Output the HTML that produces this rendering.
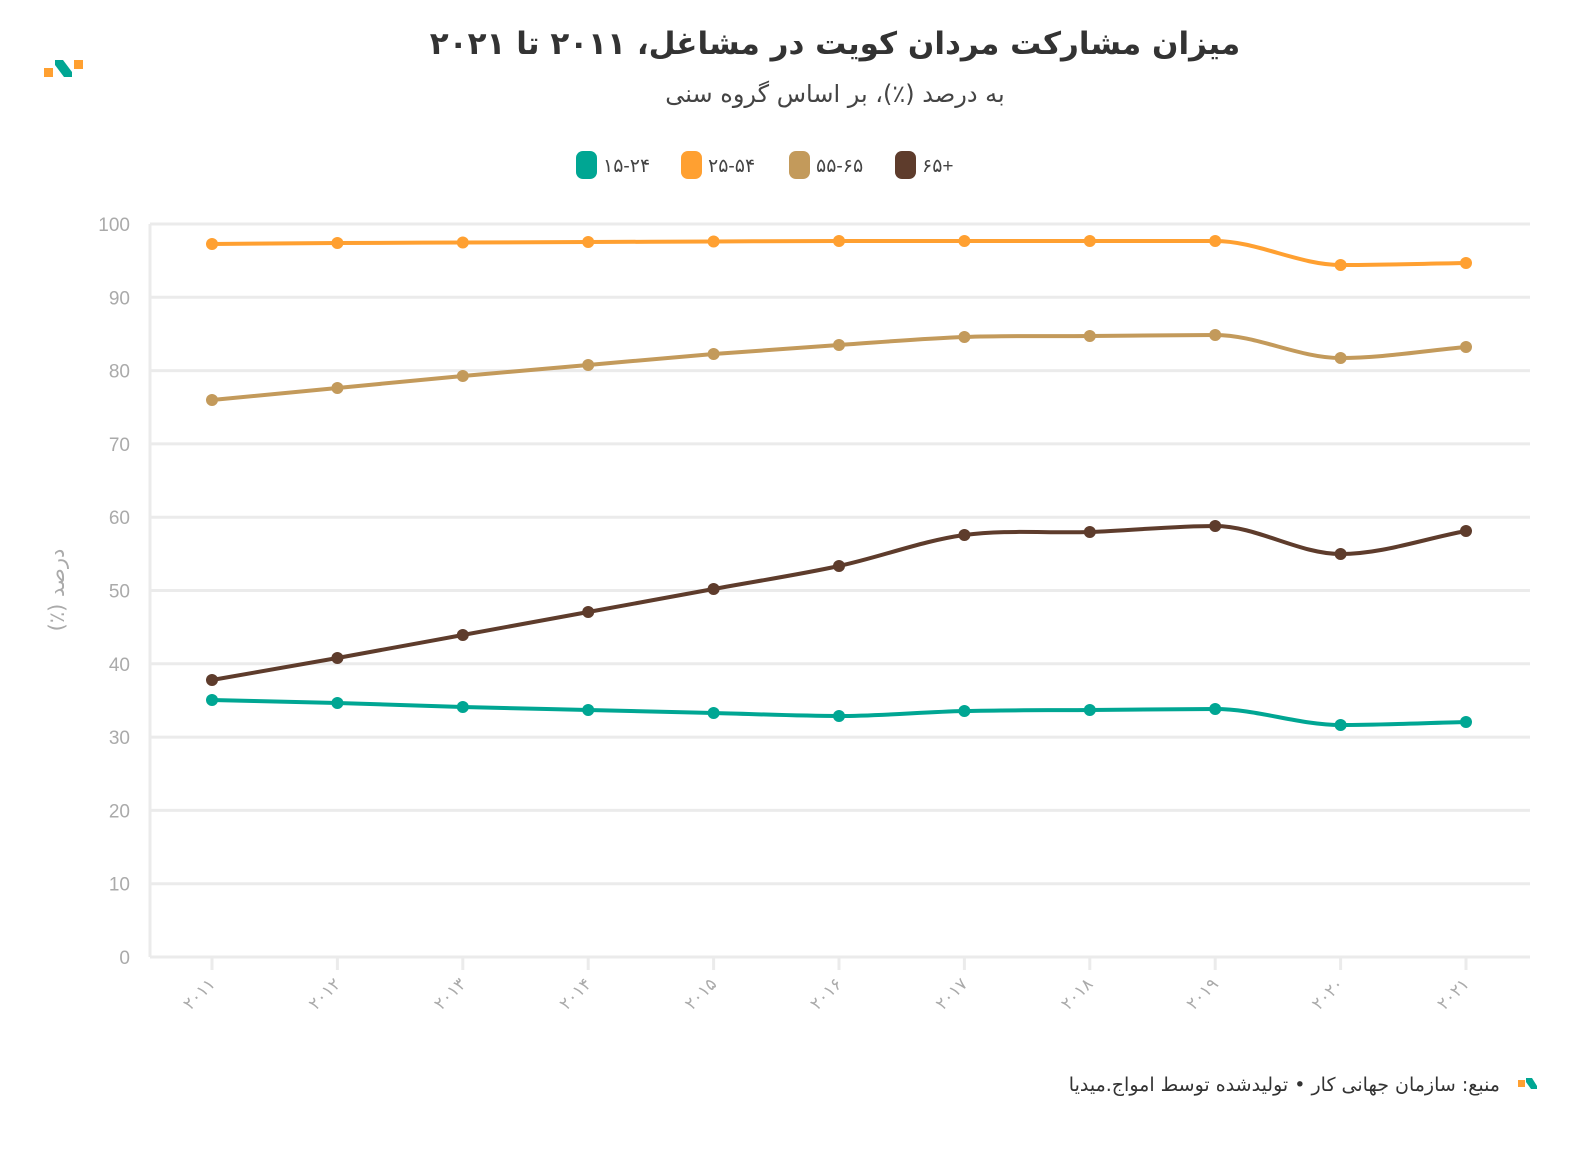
<!DOCTYPE html>
<html><head><meta charset="utf-8">
<style>
body{margin:0;background:#fff;width:1592px;height:1150px;overflow:hidden;font-family:"Liberation Sans","DejaVu Sans",sans-serif;position:relative;}
svg text{font-family:"Liberation Sans","DejaVu Sans",sans-serif;}
.t{position:absolute;direction:rtl;white-space:nowrap;font-family:"DejaVu Sans","Liberation Sans",sans-serif;}
</style></head><body>
<svg id="s" width="1592" height="1150" xmlns="http://www.w3.org/2000/svg" style="position:absolute;left:0;top:0">
<g>
<rect x="44" y="68" width="9" height="9" fill="#ffa031"/>
<path d="M55 60 L63 60 L72 72 L72 77 L64 77 L55 65Z" fill="#00a693"/>
<rect x="74" y="60" width="9" height="9" fill="#ffa031"/>
</g>
<g font-size="19" fill="#444">
<rect x="576" y="151" width="21" height="28" rx="7" fill="#00a693"/><text x="603" y="172">۱۵-۲۴</text>
<rect x="681" y="151" width="21" height="28" rx="7" fill="#ffa031"/><text x="708" y="172">۲۵-۵۴</text>
<rect x="789" y="151" width="21" height="28" rx="7" fill="#c39a5b"/><text x="816" y="172">۵۵-۶۵</text>
<rect x="895" y="151" width="21" height="28" rx="7" fill="#5e3c2c"/><text x="922" y="172">۶۵+</text>
</g>
<g id="grid" stroke="#ebebeb" stroke-width="3"></g>
<g id="yl" font-size="19" fill="#aaa" text-anchor="end"></g>
<g id="xl" font-size="17" fill="#aaa"></g>
<g id="series" fill="none" stroke-width="4"></g>
<rect x="1518" y="1080" width="7" height="7" fill="#ffa031"/>
<path d="M1526 1078 L1532 1078 L1537 1086 L1537 1089 L1531 1089 L1526 1082Z" fill="#00a693"/>
</svg>
<div class="t" style="left:0;width:1670px;text-align:center;top:26px;font-size:31px;font-weight:bold;color:#333">میزان مشارکت مردان کویت در مشاغل، ۲۰۱۱ تا ۲۰۲۱</div>
<div class="t" style="left:0;width:1670px;text-align:center;top:80px;font-size:24px;color:#444">به درصد (٪)، بر اساس گروه سنی</div>
<div class="t" style="right:92px;top:1074px;font-size:19px;color:#333">منبع: سازمان جهانی کار • تولیدشده توسط امواج.میدیا</div>
<div class="t" style="left:57px;top:590px;font-size:21px;color:#aaa;transform:translate(-50%,-50%) rotate(-90deg)">درصد (٪)</div>
<script>
var NS="http://www.w3.org/2000/svg";
function el(t,a,p){var e=document.createElementNS(NS,t);for(var k in a)e.setAttribute(k,a[k]);document.getElementById(p).appendChild(e);return e;}
var fa="۰۱۲۳۴۵۶۷۸۹";function f(n){return String(n).replace(/\d/g,function(d){return fa[d];});}
for(var i=0;i<=10;i++){var y=957-i*73.3;el("line",{x1:150,x2:1530,y1:y,y2:y},"grid");var t=el("text",{x:130,y:y+7},"yl");t.textContent=String(i*10);}
el("line",{x1:150,x2:150,y1:224,y2:957},"grid");
for(var i=0;i<11;i++){var x=212+i*125.4;el("line",{x1:x,x2:x,y1:957,y2:970},"grid");var t=el("text",{x:0,y:0,transform:"translate("+(x+4)+",985) rotate(-45)","text-anchor":"end"},"xl");t.textContent=f(2011+i);}
var S=[["#00a693",[700,703,707,710,713,716,711,710,709,725,722]],
["#ffa031",[244,243,242.5,242,241.5,241,241,241,241,265,263]],
["#c39a5b",[400,388,376,365,354,345,337,336,335,358,347]],
["#5e3c2c",[680,658,635,612,589,566,535,532,526,554,531]]];
S.forEach(function(s){var c=s[0],v=s[1],n=v.length,X=[];for(var i=0;i<n;i++)X.push(212+i*125.4);
var d=[],m=[];for(var i=0;i<n-1;i++)d.push((v[i+1]-v[i])/125.4);
for(var i=0;i<n;i++){if(i==0)m.push(d[0]);else if(i==n-1)m.push(d[n-2]);else m.push(d[i-1]*d[i]<=0?0:(d[i-1]+d[i])/2);}
var p="M"+X[0]+" "+v[0];for(var i=0;i<n-1;i++){var h=125.4/3;p+=" C"+(X[i]+h)+" "+(v[i]+m[i]*h)+" "+(X[i+1]-h)+" "+(v[i+1]-m[i+1]*h)+" "+X[i+1]+" "+v[i+1];}
el("path",{d:p,stroke:c},"series");
for(var i=0;i<n;i++)el("circle",{cx:X[i],cy:v[i],r:6,fill:c,stroke:"none"},"series");});
</script>
</body></html>
